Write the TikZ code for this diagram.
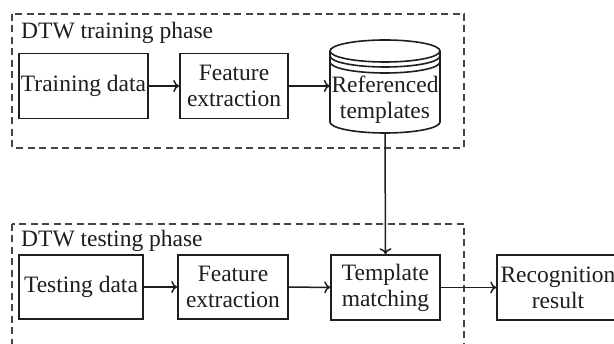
\documentclass[tikz,border=0pt]{standalone}
\usepackage{fontspec}
\setmainfont{Liberation Serif}
\usetikzlibrary{arrows.meta}
\definecolor{inkc}{HTML}{1E1E1E}
\definecolor{dashc}{HTML}{454545}
\tikzset{
  txt/.style={text=inkc, font=\fontsize{23.5}{26}\selectfont},
  blk/.style={txt, draw=inkc, line width=1.6pt, inner sep=0pt, align=center},
  phase/.style={draw=dashc, line width=1.5pt, dash pattern=on 7pt off 4.5pt},
  phaselabel/.style={txt, anchor=base west, inner sep=0pt},
  flow/.style={draw=inkc, line width=1.5pt, -{To[length=6pt,width=12pt]}},
}
\begin{document}
\begin{tikzpicture}[x=1pt,y=-1pt]
  \useasboundingbox (0,0) rectangle (614,344);
  \clip (0,0) rectangle (614,344);
  \fill[white] (0,0) rectangle (614,344);

  % phase frames
  \draw[phase] (12,14) rectangle (464,148);
  \draw[phase] (12,224) rectangle (464,360);
  \node[phaselabel] (trainlbl) at (21,39) {DTW training phase};
  \node[phaselabel] (testlbl) at (21,247) {DTW testing phase};

  % training row
  \node[blk, minimum width=129pt, minimum height=65pt] (traindata) at (83.5,86) {Training data};
  \node[blk, minimum width=108pt, minimum height=65pt] (featA) at (234,86) {Feature\\extraction};
  % database cylinder: outline area as a node, body drawn by hand
  \node[inner sep=0pt, minimum width=110pt, minimum height=93pt] (ref) at (385,86.5) {};
  \begin{scope}[draw=inkc, line width=1.6pt]
    \draw[fill=white] (330,51) -- (330,122) arc[start angle=180, end angle=360, x radius=55, y radius=-11]
      -- (440,51);
    \draw (385,51) ellipse[x radius=55, y radius=11];
    \draw (330,56) arc[start angle=180, end angle=360, x radius=55, y radius=-11];
    \draw (330,62) arc[start angle=180, end angle=360, x radius=55, y radius=-11];
  \end{scope}
  \node[txt, align=center, inner sep=0pt] (reftext) at (385,100) {Referenced\\templates};

  % testing row
  \node[blk, minimum width=124pt, minimum height=64pt] (testdata) at (81,287) {Testing data};
  \node[blk, minimum width=110pt, minimum height=64pt] (featB) at (233,287) {Feature\\extraction};
  \node[blk, minimum width=109pt, minimum height=65pt] (match) at (385.5,287.5) {Template\\matching};
  \node[blk, minimum width=122pt, minimum height=65pt] (result) at (558,287.5) {Recognition\\result};

  % connectors
  \draw[flow] (traindata) -- (featA);
  \draw[flow] (featA.east) -- (ref.west |- featA.east);
  \draw[flow] (ref.south) -- (match.north);
  \draw[flow] (testdata) -- (featB);
  \draw[flow] (featB) -- (match);
  \draw[flow] (match) -- (result);
\end{tikzpicture}
\end{document}
